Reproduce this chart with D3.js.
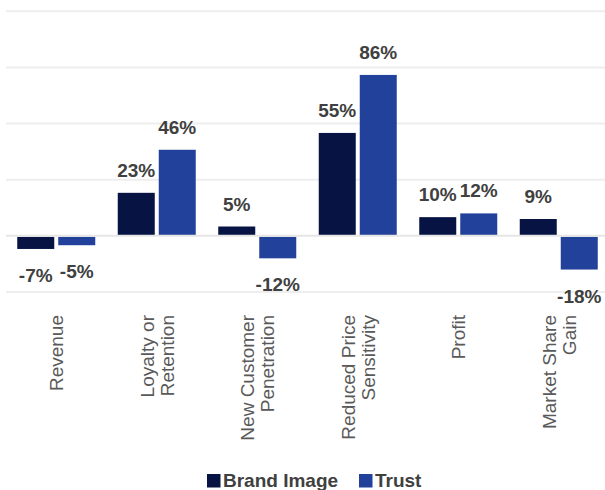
<!DOCTYPE html>
<html>
<head>
<meta charset="utf-8">
<script src="https://cdn.jsdelivr.net/npm/d3@7/dist/d3.min.js"></script>
<style>
  html, body { margin: 0; padding: 0; background: #ffffff; }
  svg { display: block; }
</style>
</head>
<body>
<div id="chart"></div>
<script>
// Outcome categories (multi-line labels split on "|")
const categories = [
  "Revenue",
  "Loyalty or|Retention",
  "New Customer|Penetration",
  "Reduced Price|Sensitivity",
  "Profit",
  "Market Share|Gain"
];
const seriesNames = ["Brand Image", "Trust"];
const brandImage = [-7, 23, 5, 55, 10, 9];
const trust = [-5, 46, -12, 86, 12, -18];
const gridTicks = [-30, 0, 30, 60, 90, 120];
const seriesColors = ["#061343", "#22419b"];

const W = 605, H = 490;
const svg = d3.select("#chart").append("svg")
  .attr("width", W).attr("height", H)
  .attr("font-family", "'Liberation Sans', Arial, sans-serif");

const y = d3.scaleLinear().domain([-30, 120]).range([292, 11.3]);
const x0 = d3.scaleBand().domain(categories).range([6, 609]).padding(0);
const groupW = 78;
const x1 = d3.scaleBand().domain(seriesNames)
  .range([(x0.bandwidth() - groupW) / 2, (x0.bandwidth() + groupW) / 2])
  .paddingInner(0.0976).paddingOuter(0);

const rows = categories.map((c, i) => ({
  cat: c,
  vals: [
    { s: seriesNames[0], v: brandImage[i], color: seriesColors[0] },
    { s: seriesNames[1], v: trust[i], color: seriesColors[1] }
  ]
}));

// horizontal gridlines
svg.append("g").selectAll("line")
  .data(gridTicks.filter(t => t !== 0))
  .join("line")
  .attr("x1", 6).attr("x2", W)
  .attr("y1", d => y(d)).attr("y2", d => y(d))
  .attr("stroke", "#eeeeee").attr("stroke-width", 2);

// bars
const groups = svg.append("g").selectAll("g")
  .data(rows).join("g")
  .attr("transform", d => `translate(${x0(d.cat)},0)`);

groups.selectAll("rect")
  .data(d => d.vals).join("rect")
  .attr("x", d => x1(d.s))
  .attr("width", x1.bandwidth())
  .attr("y", d => d.v >= 0 ? y(d.v) : y(0) + 1)
  .attr("height", d => Math.abs(y(d.v) - y(0)) - (d.v >= 0 ? 0 : 1))
  .attr("fill", d => d.color);

// zero baseline
svg.append("line")
  .attr("x1", 6).attr("x2", W)
  .attr("y1", y(0)).attr("y2", y(0))
  .attr("stroke", "#e6e6e6").attr("stroke-width", 2);

// value labels
groups.selectAll("text.val")
  .data(d => d.vals).join("text")
  .attr("class", "val")
  .attr("x", d => x1(d.s) + x1.bandwidth() / 2)
  .attr("y", d => d.v >= 0 ? y(d.v) - 16 : y(d.v) + 33)
  .attr("text-anchor", "middle")
  .attr("font-size", 19)
  .attr("font-weight", "bold")
  .attr("fill", "#404040")
  .text(d => d.v + "%");

// rotated category labels
const catLabels = svg.append("g").selectAll("text")
  .data(categories).join("text")
  .attr("transform", d => `translate(${x0(d) + x0.bandwidth() / 2},315) rotate(-90)`)
  .attr("text-anchor", "end")
  .attr("font-size", 19)
  .attr("fill", "#595959");

catLabels.each(function (d) {
  const lines = d.split("|");
  const lh = 20;
  const start = -(lines.length - 1) * lh / 2;
  d3.select(this).selectAll("tspan")
    .data(lines).join("tspan")
    .attr("x", 0)
    .attr("y", (l, i) => start + i * lh)
    .attr("dy", "0.36em")
    .text(l => l);
});

// legend
const legendItems = [
  { name: seriesNames[0], color: seriesColors[0], x: 207 },
  { name: seriesNames[1], color: seriesColors[1], x: 359 }
];
const lg = svg.append("g").selectAll("g")
  .data(legendItems).join("g")
  .attr("transform", d => `translate(${d.x},474)`);
lg.append("rect")
  .attr("width", 13.5).attr("height", 13.5)
  .attr("fill", d => d.color);
lg.append("text")
  .attr("x", 16).attr("y", 13.3)
  .attr("font-size", 19)
  .attr("font-weight", "bold")
  .attr("fill", "#404040")
  .text(d => d.name);
</script>
</body>
</html>
